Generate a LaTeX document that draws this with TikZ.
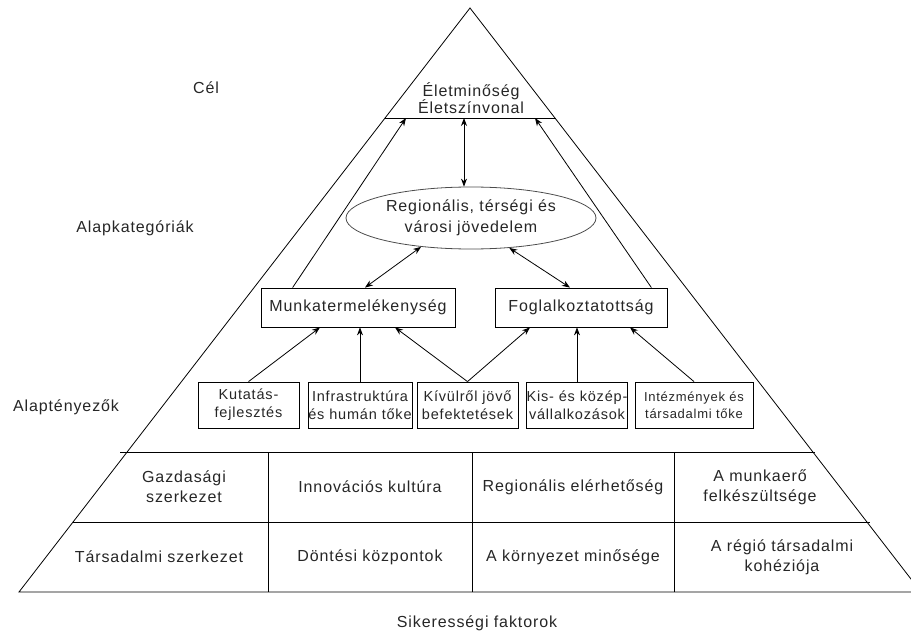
\documentclass[tikz,border=0pt]{standalone}
\usepackage{fontspec}
\setmainfont{Liberation Sans}[LetterSpace=5.6]
\usetikzlibrary{arrows.meta}
\usetikzlibrary{shapes.geometric}

\begin{document}
\begin{tikzpicture}[x=1pt, y=-1pt, line width=.8pt, >={Stealth[length=8pt, width=6pt]},
 felirat/.style={font=\fontsize{16}{19}\selectfont, align=center, inner sep=0, text=black!85},
 doboz/.style={draw, font=\fontsize{16}{19}\selectfont, minimum height=39, inner sep=0, text=black!85},
 kisdoboz/.style={draw, align=center, font=\fontsize{14.5}{18}\selectfont, minimum height=46, inner sep=0, text=black!85},
 nyil/.style={->},
 ketnyil/.style={<->}]
\useasboundingbox (0,0) rectangle (911,634);
\clip (0,0) rectangle (911,634);

% piramis
\draw (19,592) -- (470,8) -- (921,592) -- cycle;
\coordinate (vonalbal) at (385,118);
\coordinate (vonaljobb) at (556,118);
\draw (vonalbal) -- (vonaljobb);
\draw (120,452) -- (815,452);
\draw (73,522) -- (870,522);
\foreach \x in {268, 472, 674} {
 \draw (\x,452) -- (\x,592);
}

% szintek
\node[felirat] (cel) at (206,88) {Cél};
\node[felirat] (alapkat) at (135,228) {Alapkategóriák};
\node[felirat] (alaptenyezo) at (66,407) {Alaptényezők};
\node[felirat] (siker) at (477,623) {Sikerességi faktorok};

% cel
\node[felirat, font=\fontsize{16}{17.5}\selectfont] (elet) at (471,98) {Életminőség\\Életszínvonal};
\coordinate (cel0) at (464,118);
\coordinate (cel1) at (406,118);
\coordinate (cel2) at (535,118);

% alapkategoriak
\node[draw, ellipse, felirat, font=\fontsize{16}{21}\selectfont, minimum width=250, minimum height=62, draw=black!70] (jov) at (471,218) {Regionális, térségi és\\városi jövedelem};
\node[doboz, minimum width=194] (munka) at (358,307.5) {Munkatermelékenység};
\node[doboz, minimum width=172] (fogl) at (581,307.5) {Foglalkoztatottság};

% alaptenyezok
\node[kisdoboz, minimum width=101] (kutatas) at (248.5,405) {Kutatás-\\fejlesztés};
\node[kisdoboz, minimum width=104] (infra) at (360,405) {Infrastruktúra\\és humán tőke};
\node[kisdoboz, minimum width=101] (kivul) at (467.5,405) {Kívülről jövő\\befektetések};
\node[kisdoboz, minimum width=100] (kkv) at (577,405) {Kis- és közép-\\vállalkozások};
\node[kisdoboz, minimum width=118, font=\fontsize{13}{17}\selectfont] (intez) at (694,405) {Intézmények és\\társadalmi tőke};

% sikeressegi faktorok
\foreach \n/\x/\y/\t in {1/184/487/{Gazdasági\\szerkezet}, 2/370/487/{Innovációs kultúra},
 3/573/487/{Regionális elérhetőség}, 4/760/487/{A munkaerő\\felkészültsége},
 5/159/557/{Társadalmi szerkezet}, 6/370/557/{Döntési központok},
 7/573/557/{A környezet minősége}, 8/782/557/{A régió társadalmi\\kohéziója}} {
 \node[felirat, font=\fontsize{16}{20}\selectfont] (tenyezo\n) at (\x,\y) {\t};
}

% nyilak
\draw[nyil] (kutatas.north) -- ([xshift=-38pt]munka.south);
\draw[nyil] (infra.north) -- (infra.north |- munka.south);
\draw[nyil] (kivul.north) -- ([xshift=37pt]munka.south);
\draw[nyil] (kivul.north) -- ([xshift=-51pt]fogl.south);
\draw[nyil] (kkv.north) -- (kkv.north |- fogl.south);
\draw[nyil] (intez.north) -- ([xshift=49pt]fogl.south);
\draw[ketnyil] ([xshift=7pt]munka.north) -- (jov.210);
\draw[ketnyil] ([xshift=-11pt]fogl.north) -- (jov.322);
\draw[ketnyil] (cel0) -- (cel0 |- jov.north);
\draw[nyil] ([xshift=32pt]munka.north west) -- (cel1);
\draw[nyil] ([xshift=-16pt]fogl.north east) -- (cel2);
\end{tikzpicture}
\end{document}
